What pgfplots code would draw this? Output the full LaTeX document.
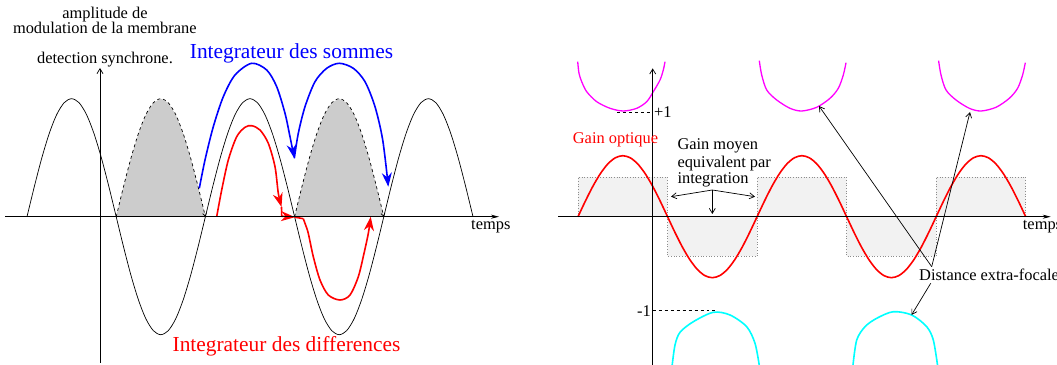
\documentclass[border=0pt]{standalone}
\usepackage{fontspec}
\setmainfont{Liberation Serif}
\usepackage{pgfplots}
\pgfplotsset{compat=1.18}
\usetikzlibrary{arrows.meta}
\definecolor{pureblue}{RGB}{0,0,255}
\definecolor{purered}{RGB}{255,0,0}
\definecolor{puremagenta}{RGB}{255,0,255}
\definecolor{purecyan}{RGB}{0,255,255}
\definecolor{shade}{RGB}{204,204,204}
\definecolor{boxfill}{RGB}{242,242,242}

\begin{document}
\begin{tikzpicture}[
  txt/.style={font=\fontsize{16.4bp}{19bp}\selectfont, inner sep=0pt},
  big/.style={font=\fontsize{21.4bp}{25bp}\selectfont, inner sep=0pt},
  thinline/.style={line width=0.7bp},
  barb/.style={-{Straight Barb[length=5bp,width=6bp]}},
  bighead/.style={-{Stealth[length=14bp,width=10bp]}},
]
\path[use as bounding box] (0,0) rectangle (1057bp,365bp);
\begin{axis}[at={(0,0)}, anchor=south west, scale only axis,
  width=1057bp, height=365bp,
  xmin=0, xmax=1057, ymin=-148.3, ymax=216.7,
  hide axis, clip=true]

% ---- left panel: rectified halves (shaded) ----
\addplot[fill=shade, draw=none] coordinates {
 (116.20,0) (123.63,30.5) (131.07,59) (138.50,83.4) (145.93,102.2) (153.37,114)
 (160.80,118) (168.23,114) (175.67,102.2) (183.10,83.4) (190.53,59) (197.97,30.5) (205.40,0)} \closedcycle;
\addplot[fill=shade, draw=none] coordinates {
 (294.60,0) (302.03,30.5) (309.47,59) (316.90,83.4) (324.33,102.2) (331.77,114)
 (339.20,118) (346.63,114) (354.07,102.2) (361.50,83.4) (368.93,59) (376.37,30.5) (383.80,0)} \closedcycle;
\addplot[thinline, dashed, smooth, -{Straight Barb[length=3bp,width=4bp]}] coordinates {
 (116.20,0) (123.63,30.5) (131.07,59) (138.50,83.4) (145.93,102.2) (153.37,114)
 (160.80,118) (168.23,114) (175.67,102.2) (183.10,83.4) (190.53,59) (197.97,30.5) (205.40,0)};
\addplot[thinline, dashed, smooth, -{Straight Barb[length=3bp,width=4bp]}] coordinates {
 (294.60,0) (302.03,30.5) (309.47,59) (316.90,83.4) (324.33,102.2) (331.77,114)
 (339.20,118) (346.63,114) (354.07,102.2) (361.50,83.4) (368.93,59) (376.37,30.5) (383.80,0)};

% ---- left panel: membrane modulation ----
\addplot[thinline, smooth] coordinates {
 (27.00,0) (34.43,30.5) (41.87,59) (49.30,83.4) (56.73,102.2) (64.17,114)
 (71.60,118) (79.03,114) (86.47,102.2) (93.90,83.4) (101.33,59) (108.77,30.5)
 (116.20,0) (123.63,-30.5) (131.07,-59) (138.50,-83.4) (145.93,-102.2) (153.37,-114)
 (160.80,-118) (168.23,-114) (175.67,-102.2) (183.10,-83.4) (190.53,-59) (197.97,-30.5)
 (205.40,0) (212.83,30.5) (220.27,59) (227.70,83.4) (235.13,102.2) (242.57,114)
 (250.00,118) (257.43,114) (264.87,102.2) (272.30,83.4) (279.73,59) (287.17,30.5)
 (294.60,0) (302.03,-30.5) (309.47,-59) (316.90,-83.4) (324.33,-102.2) (331.77,-114)
 (339.20,-118) (346.63,-114) (354.07,-102.2) (361.50,-83.4) (368.93,-59) (376.37,-30.5)
 (383.80,0) (391.23,30.5) (398.67,59) (406.10,83.4) (413.53,102.2) (420.97,114)
 (428.40,118) (435.83,114) (443.27,102.2) (450.70,83.4) (458.13,59) (465.57,30.5) (473.00,0)};

% ---- integrateur des sommes ----
\addplot[pureblue, line width=1.6bp, smooth, bighead] coordinates {
 (199.3,28.4) (205,56.7) (213.3,90) (223.3,120) (235,141.7) (251.7,153.4)
 (266.7,146.7) (276.7,130) (285,103.4) (290,80) (294.3,58.4)};
\addplot[pureblue, line width=1.6bp, smooth, bighead] coordinates {
 (294.3,58.4) (298.3,83.4) (305,110) (315,135) (326.7,148.4) (339.3,153.4)
 (353.3,148.4) (365,135) (375,110) (382.7,76.7) (388.3,30)};

% ---- integrateur des differences ----
\addplot[purered, line width=1.6bp, smooth, bighead] coordinates {
 (216.7,0) (221.7,26.7) (228.3,56.7) (236.7,80) (245,89.4) (251.7,91) (260,86.7)
 (268.3,73.4) (275,50) (278.3,23.4) (281.5,9.7)};
\addplot[purered, line width=1.6bp, bighead] coordinates {
 (281.5,9.7) (281.7,0.5) (295,-0.5)};
\addplot[purered, line width=1.6bp] coordinates {(295,-0.5) (303.3,-2)};
\addplot[purered, line width=1.6bp, smooth, bighead] coordinates {
 (303.3,-2) (305.5,-8) (308.3,-16.7) (313.3,-40) (320,-63.3) (328.3,-78.3) (340,-83.3)
 (350,-78.3) (358.3,-60) (364,-36.7) (368.3,-16.7) (370.7,0)};

% ---- left axes ----
\draw[thinline, -{Stealth[length=8bp,width=4bp]}] (axis cs:5,0) -- (axis cs:499,0);
\draw[thinline, barb] (axis cs:100,-146.3) -- (axis cs:100,148.7);

% ---- right panel: equivalent mean gain (boxes) ----
\addplot[fill=boxfill, draw=gray!90, dotted, thinline] coordinates {(578,0) (578,39.5) (667.5,39.5) (667.5,0)} \closedcycle;
\addplot[fill=boxfill, draw=gray!90, dotted, thinline] coordinates {(667.5,0) (667.5,-39.5) (757,-39.5) (757,0)} \closedcycle;
\addplot[fill=boxfill, draw=gray!90, dotted, thinline] coordinates {(757,0) (757,39.5) (846.6,39.5) (846.6,0)} \closedcycle;
\addplot[fill=boxfill, draw=gray!90, dotted, thinline] coordinates {(846.6,0) (846.6,-39.5) (936.2,-39.5) (936.2,0)} \closedcycle;
\addplot[fill=boxfill, draw=gray!90, dotted, thinline] coordinates {(936.2,0) (936.2,39.5) (1025.7,39.5) (1025.7,0)} \closedcycle;

% ---- gain optique ----
\addplot[purered, line width=1.6bp, smooth] coordinates {
 (578.00,0) (585.46,15.8) (592.92,30.5) (600.39,43.1) (607.85,52.8) (615.31,58.9)
 (622.77,61) (630.23,58.9) (637.69,52.8) (645.16,43.1) (652.62,30.5) (660.08,15.8)
 (667.54,0) (675.00,-15.8) (682.46,-30.5) (689.93,-43.1) (697.39,-52.8) (704.85,-58.9)
 (712.31,-61) (719.77,-58.9) (727.23,-52.8) (734.69,-43.1) (742.16,-30.5) (749.62,-15.8)
 (757.08,0) (764.54,15.8) (772.00,30.5) (779.47,43.1) (786.93,52.8) (794.39,58.9)
 (801.85,61) (809.31,58.9) (816.77,52.8) (824.24,43.1) (831.70,30.5) (839.16,15.8)
 (846.62,0) (854.08,-15.8) (861.54,-30.5) (869.01,-43.1) (876.47,-52.8) (883.93,-58.9)
 (891.39,-61) (898.85,-58.9) (906.31,-52.8) (913.78,-43.1) (921.24,-30.5) (928.70,-15.8)
 (936.16,0) (943.62,15.8) (951.08,30.5) (958.55,43.1) (966.01,52.8) (973.47,58.9)
 (980.93,61) (988.39,58.9) (995.85,52.8) (1003.32,43.1) (1010.78,30.5) (1018.24,15.8) (1025.70,0)};

% ---- distance extra-focale ----
\addplot[puremagenta, line width=1.3bp, smooth] coordinates {
 (577.7,155) (579,143.4) (581.7,135) (586.7,125) (596.7,115) (610,108.4) (623.3,105.7)
 (636.7,108.4) (646.7,115) (653.3,125) (660,136.7) (663.3,146.7) (665,155)};
\addplot[puremagenta, line width=1.3bp, smooth] coordinates {
 (759.3,156) (761.7,141.7) (766.7,126.7) (776.7,116.7) (790,108.4) (801.7,105.7)
 (816.7,109.4) (830,118.4) (838.3,128.4) (843.3,141.7) (846,154)};
\addplot[puremagenta, line width=1.3bp, smooth] coordinates {
 (938.6,156) (941,141.7) (946,126.7) (956,116.7) (969.3,108.4) (981,105.7)
 (996,109.4) (1009.3,118.4) (1017.6,128.4) (1022.6,141.7) (1025.3,154)};
\addplot[purecyan, line width=1.6bp, smooth] coordinates {
 (672.2,-148.3) (675,-128.3) (680,-115.6) (693.3,-105) (713.3,-95.6) (730,-98.3)
 (746.7,-110) (755,-126.6) (759.2,-148.3)};
\addplot[purecyan, line width=1.6bp, smooth] coordinates {
 (853,-148.3) (856.7,-123.3) (865,-110) (876.7,-101.6) (893.3,-95) (911.7,-98.3)
 (926.7,-110) (933.3,-123.3) (937.5,-148.3)};

% ---- right axes and marks ----
\draw[thinline, -{Stealth[length=8bp,width=4bp]}] (axis cs:558,0) -- (axis cs:1050.7,0);
\draw[thinline, barb] (axis cs:652.7,-148.3) -- (axis cs:652.7,148.3);
\draw[thinline, dashed] (axis cs:617,104.4) -- (axis cs:652.7,104.4);
\draw[thinline, dashed] (axis cs:652.7,-94) -- (axis cs:715,-94);

\draw[thinline, barb] (axis cs:712.3,26.7) -- (axis cs:671,20);
\draw[thinline, barb] (axis cs:712.3,26.7) -- (axis cs:755,20);
\draw[thinline, barb] (axis cs:712.3,26.7) -- (axis cs:712.3,2.7);
\draw[thinline, barb] (axis cs:931.7,-50) -- (axis cs:819,110.7);
\draw[thinline, barb] (axis cs:931.7,-50) -- (axis cs:970,104.7);
\draw[thinline, barb] (axis cs:930.7,-66.6) -- (axis cs:911.5,-98.3);

% ---- texts ----
\node[txt, anchor=base] at (axis cs:105,197.9) {amplitude de};
\node[txt, anchor=base] at (axis cs:104.8,183.4) {modulation de la membrane};
\node[txt, anchor=base] at (axis cs:105,153.4) {detection synchrone.};
\node[big, pureblue, anchor=base] at (axis cs:291.5,158.4) {Integrateur des sommes};
\node[big, purered, anchor=base] at (axis cs:286.5,-135) {Integrateur des differences};
\node[txt, anchor=base west] at (axis cs:471,-12.6) {temps};

\node[txt, anchor=west] at (axis cs:654,104.4) {+1};
\node[txt, anchor=east] at (axis cs:651,-94) {-1};
\node[txt, purered, anchor=base west] at (axis cs:572.7,72.7) {Gain optique};
\node[txt, anchor=base west] at (axis cs:677.3,66.7) {Gain moyen};
\node[txt, anchor=base west] at (axis cs:677.3,49.4) {equivalent par};
\node[txt, anchor=base west] at (axis cs:677.3,33.4) {integration};
\node[txt, anchor=base west] at (axis cs:919,-64) {Distance extra-focale};
\node[txt, anchor=base west] at (axis cs:1022.7,-13.3) {temps};
\end{axis}
\end{tikzpicture}
\end{document}
